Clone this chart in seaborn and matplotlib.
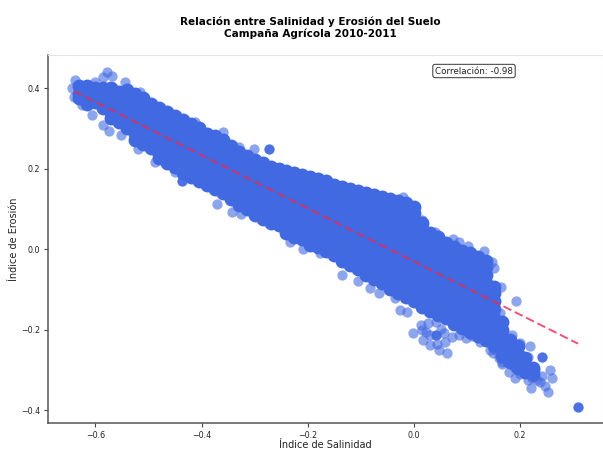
import matplotlib
matplotlib.use("Agg")
import matplotlib.pyplot as plt
import pandas as pd
import seaborn as sns

TITLE = "Relación entre Salinidad y Erosión del Suelo\nCampaña Agrícola 2010-2011"
XLABEL = "Índice de Salinidad"
YLABEL = "Índice de Erosión"
NOTE = "Correlación: -0.98"
x_ticks = [-0.6, -0.4, -0.2, 0.0, 0.2]
y_ticks = [-0.4, -0.2, 0.0, 0.2, 0.4]

# Dense body of the cloud: salinity value of each column, erosion values read at that column
body_x = [-0.63, -0.615, -0.6, -0.585, -0.57, -0.555, -0.54, -0.525, -0.51, -0.495,
          -0.48, -0.465, -0.45, -0.435, -0.42, -0.405, -0.39, -0.375, -0.36, -0.345,
          -0.33, -0.315, -0.3, -0.285, -0.27, -0.255, -0.24, -0.225, -0.21, -0.195,
          -0.18, -0.165, -0.15, -0.135, -0.12, -0.105, -0.09, -0.075, -0.06, -0.045,
          -0.03, -0.015, 0.0, 0.015, 0.03, 0.045, 0.06, 0.075, 0.09, 0.105,
          0.12, 0.135, 0.15, 0.165, 0.18, 0.195, 0.21, 0.225]
body_y = [
    [.405, .385, .375],
    [.405, .385, .37, .36],
    [.40, .38, .365],
    [.40, .385, .365, .35],
    [.40, .38, .36, .34, .325],
    [.39, .37, .35, .33, .315],
    [.395, .375, .355, .335, .315, .30],
    [.385, .365, .345, .325, .305, .285, .27],
    [.375, .355, .335, .315, .295, .275, .26],
    [.36, .345, .325, .305, .285, .265, .25],
    [.35, .33, .31, .29, .27, .25, .235, .225],
    [.34, .325, .305, .285, .265, .245, .225, .215],
    [.33, .31, .29, .27, .25, .23, .21, .205],
    [.32, .305, .285, .265, .245, .225, .205, .19],
    [.31, .29, .27, .25, .23, .21, .19, .18],
    [.30, .28, .26, .24, .22, .20, .18, .17],
    [.285, .27, .25, .23, .21, .19, .17, .16],
    [.28, .265, .245, .225, .205, .185, .165, .15],
    [.27, .255, .235, .215, .195, .175, .155, .14],
    [.255, .24, .22, .20, .18, .16, .14, .125],
    [.24, .225, .205, .185, .165, .145, .125, .11],
    [.23, .215, .195, .175, .155, .135, .115, .10],
    [.22, .205, .185, .165, .145, .125, .105, .085],
    [.215, .20, .18, .16, .14, .12, .10, .075],
    [.205, .19, .17, .15, .13, .11, .09, .065],
    [.20, .185, .165, .145, .125, .105, .085, .06],
    [.195, .18, .16, .14, .12, .10, .08, .06, .04],
    [.19, .175, .155, .135, .115, .095, .075, .055, .03],
    [.185, .17, .15, .13, .11, .09, .07, .05, .025],
    [.18, .165, .145, .125, .105, .085, .065, .045, .025, .01],
    [.175, .16, .14, .12, .10, .08, .06, .04, .02, .005],
    [.17, .155, .135, .115, .095, .075, .055, .035, .015, -.005],
    [.16, .145, .125, .105, .085, .065, .045, .025, .005, -.015],
    [.155, .14, .12, .10, .08, .06, .04, .02, 0, -.02, -.03],
    [.15, .135, .115, .095, .075, .055, .035, .015, -.005, -.025, -.04],
    [.145, .13, .11, .09, .07, .05, .03, .01, -.01, -.03, -.05],
    [.14, .125, .105, .085, .065, .045, .025, .005, -.015, -.035, -.055, -.065],
    [.135, .12, .10, .08, .06, .04, .02, 0, -.02, -.04, -.06, -.075],
    [.13, .115, .095, .075, .055, .035, .015, -.005, -.025, -.045, -.065, -.085],
    [.125, .11, .09, .07, .05, .03, .01, -.01, -.03, -.05, -.07, -.09, -.10],
    [.12, .105, .085, .065, .045, .025, .005, -.015, -.035, -.055, -.075, -.095, -.11],
    [.115, .10, .08, .06, .04, .02, 0, -.02, -.04, -.06, -.08, -.10, -.12],
    [.105, .09, .07, .05, .03, .01, -.01, -.03, -.05, -.07, -.09, -.11, -.13],
    [.065, .05, .03, .01, -.01, -.03, -.05, -.07, -.09, -.11, -.13, -.145],
    [.04, .025, .005, -.015, -.035, -.055, -.075, -.095, -.115, -.135, -.155],
    [.03, .015, -.005, -.025, -.045, -.065, -.085, -.105, -.125, -.145, -.165],
    [.015, 0, -.02, -.04, -.06, -.08, -.10, -.12, -.14, -.16, -.17],
    [.005, -.01, -.03, -.05, -.07, -.09, -.11, -.13, -.15, -.17, -.185],
    [-.005, -.02, -.04, -.06, -.08, -.10, -.12, -.14, -.16, -.18, -.195],
    [-.01, -.025, -.045, -.065, -.085, -.105, -.125, -.145, -.165, -.185, -.205],
    [-.02, -.035, -.055, -.075, -.095, -.115, -.135, -.155, -.175, -.195, -.215],
    [-.03, -.045, -.065, -.085, -.105, -.125, -.145, -.165, -.185, -.205, -.225],
    [-.095, -.11, -.13, -.15, -.17, -.19, -.21, -.23, -.24],
    [-.18, -.20, -.22, -.24, -.265],
    [-.225, -.245, -.265, -.28],
    [-.24, -.26, -.28, -.295],
    [-.27, -.29, -.305],
    [-.295, -.31],
]

# Single translucent points along the rim and in the lower tail
rim_x = [-0.578, -0.585, -0.568, -0.301, -0.638, -0.643, -0.641, -0.625, -0.606, -0.585,
         -0.574, -0.551, -0.519, -0.487, -0.45, -0.371, -0.342, -0.325, -0.233, -0.209,
         -0.6, -0.544, -0.516, -0.412, -0.359, -0.329, -0.177, -0.135, -0.105, -0.083,
         -0.066, -0.036, -0.026, -0.013, -0.021, 0.015, 0.04, 0.073, 0.085, 0.102,
         0.132, 0.147, 0.151, 0.164, 0.192, 0.162,
         -0.002, 0.013, 0.026, 0.041, 0.015, 0.017, 0.03, 0.043, 0.047, 0.062,
         0.058, 0.056, 0.071, 0.085, 0.098, 0.03, 0.022, 0.05,
         0.124, 0.149, 0.166, 0.179, 0.19, 0.218, 0.214, 0.256, 0.26, 0.246,
         0.252, 0.22, 0.214, 0.231, 0.241, 0.228, 0.213, 0.196, 0.186, 0.175,
         0.199, 0.184, 0.199, 0.175, 0.194, 0.143, 0.16, 0.17, 0.185, 0.205,
         0.21, 0.2, 0.19, 0.175, 0.165, 0.155, 0.225, 0.238, 0.222, 0.205,
         0.18, 0.195, 0.165, 0.15, 0.135, 0.12, 0.11]
rim_y = [0.44, 0.427, 0.43, 0.248, 0.42, 0.40, 0.378, 0.358, 0.333, 0.308,
         0.293, 0.283, 0.248, 0.216, 0.191, 0.112, 0.092, 0.087, 0.017, 0.0,
         0.415, 0.415, 0.39, 0.316, 0.291, 0.253, -0.01, -0.065, -0.08, -0.097,
         -0.109, -0.122, -0.152, -0.157, 0.129, 0.072, 0.042, 0.025, 0.017, 0.007,
         -0.005, -0.032, -0.047, -0.094, -0.129, -0.159,
         -0.209, -0.189, -0.184, -0.181, -0.201, -0.226, -0.239, -0.236, -0.251, -0.258,
         -0.231, -0.209, -0.219, -0.214, -0.221, -0.214, -0.207, -0.198,
         -0.231, -0.258, -0.281, -0.306, -0.32, -0.241, -0.268, -0.301, -0.32, -0.34,
         -0.355, -0.345, -0.325, -0.325, -0.316, -0.301, -0.288, -0.301, -0.288, -0.281,
         -0.276, -0.214, -0.234, -0.234, -0.258, -0.251, -0.27, -0.26, -0.27, -0.285,
         -0.305, -0.31, -0.295, -0.25, -0.24, -0.25, -0.315, -0.33, -0.32, -0.3,
         -0.25, -0.29, -0.285, -0.24, -0.225, -0.22, -0.215]

# Points that look fully opaque in the picture
dark_x = [-0.437, -0.273, 0.041, 0.241, 0.309]
dark_y = [0.169, 0.248, -0.214, -0.268, -0.393]

# Trend line end points
trend_x = [-0.64, 0.309]
trend_y = [0.392, -0.235]

sns.set_theme(style="white")
plt.rcParams["font.family"] = "DejaVu Sans"

fig = plt.figure(figsize=(6.03, 4.49), dpi=100)
ax = fig.add_axes([47.5 / 603, 26 / 449, 555 / 603, 368 / 449])

body = pd.DataFrame({"x": body_x, "y": body_y}).explode("y")
body["y"] = body["y"].astype(float)
rim = pd.DataFrame({"x": rim_x, "y": rim_y})
dark = pd.DataFrame({"x": dark_x, "y": dark_y})

BLUE = "#4169e1"
sns.scatterplot(data=rim, x="x", y="y", s=55, color=BLUE, alpha=0.6, linewidth=0, ax=ax)
sns.scatterplot(data=body, x="x", y="y", s=100, color=BLUE, alpha=1, linewidth=0, ax=ax)
sns.scatterplot(data=dark, x="x", y="y", s=55, color=BLUE, alpha=0.95, linewidth=0, ax=ax)
sns.lineplot(x=trend_x, y=trend_y, color="#f0284f", alpha=0.8, linewidth=1.4,
             linestyle=(0, (4.5, 2)), ax=ax, errorbar=None, sort=False)

ax.set_xlim(-0.69, 0.355)
ax.set_ylim(-0.432, 0.482)
ax.set_xticks(x_ticks)
ax.set_yticks(y_ticks)
ax.tick_params(axis="both", labelsize=5.7, length=3, width=0.8, color="#444444",
               labelcolor="#222222", bottom=True, left=True, pad=2.5)
ax.set_xlabel(XLABEL, fontsize=7, color="#222222")
ax.set_ylabel(YLABEL, fontsize=7, color="#222222")
ax.xaxis.set_label_coords(0.5, -0.046)
ax.yaxis.set_label_coords(-0.051, 0.5)
for side in ("left", "bottom"):
    ax.spines[side].set_color("#555555")
    ax.spines[side].set_linewidth(1.1)
for side in ("top", "right"):
    ax.spines[side].set_color("#e4e4e4")
    ax.spines[side].set_linewidth(0.8)

fig.text(310 / 603, 1 - 27.5 / 449, TITLE, ha="center", va="center", fontsize=7.5,
         fontweight="bold", color="black", linespacing=1.2)
ax.text(474, 449 - 71, NOTE, transform=None, ha="center", va="center", fontsize=6.3,
        color="#222222",
        bbox=dict(boxstyle="round,pad=0.25", facecolor="white", edgecolor="#333333", linewidth=0.7))

fig.savefig("out.png", dpi=100)
